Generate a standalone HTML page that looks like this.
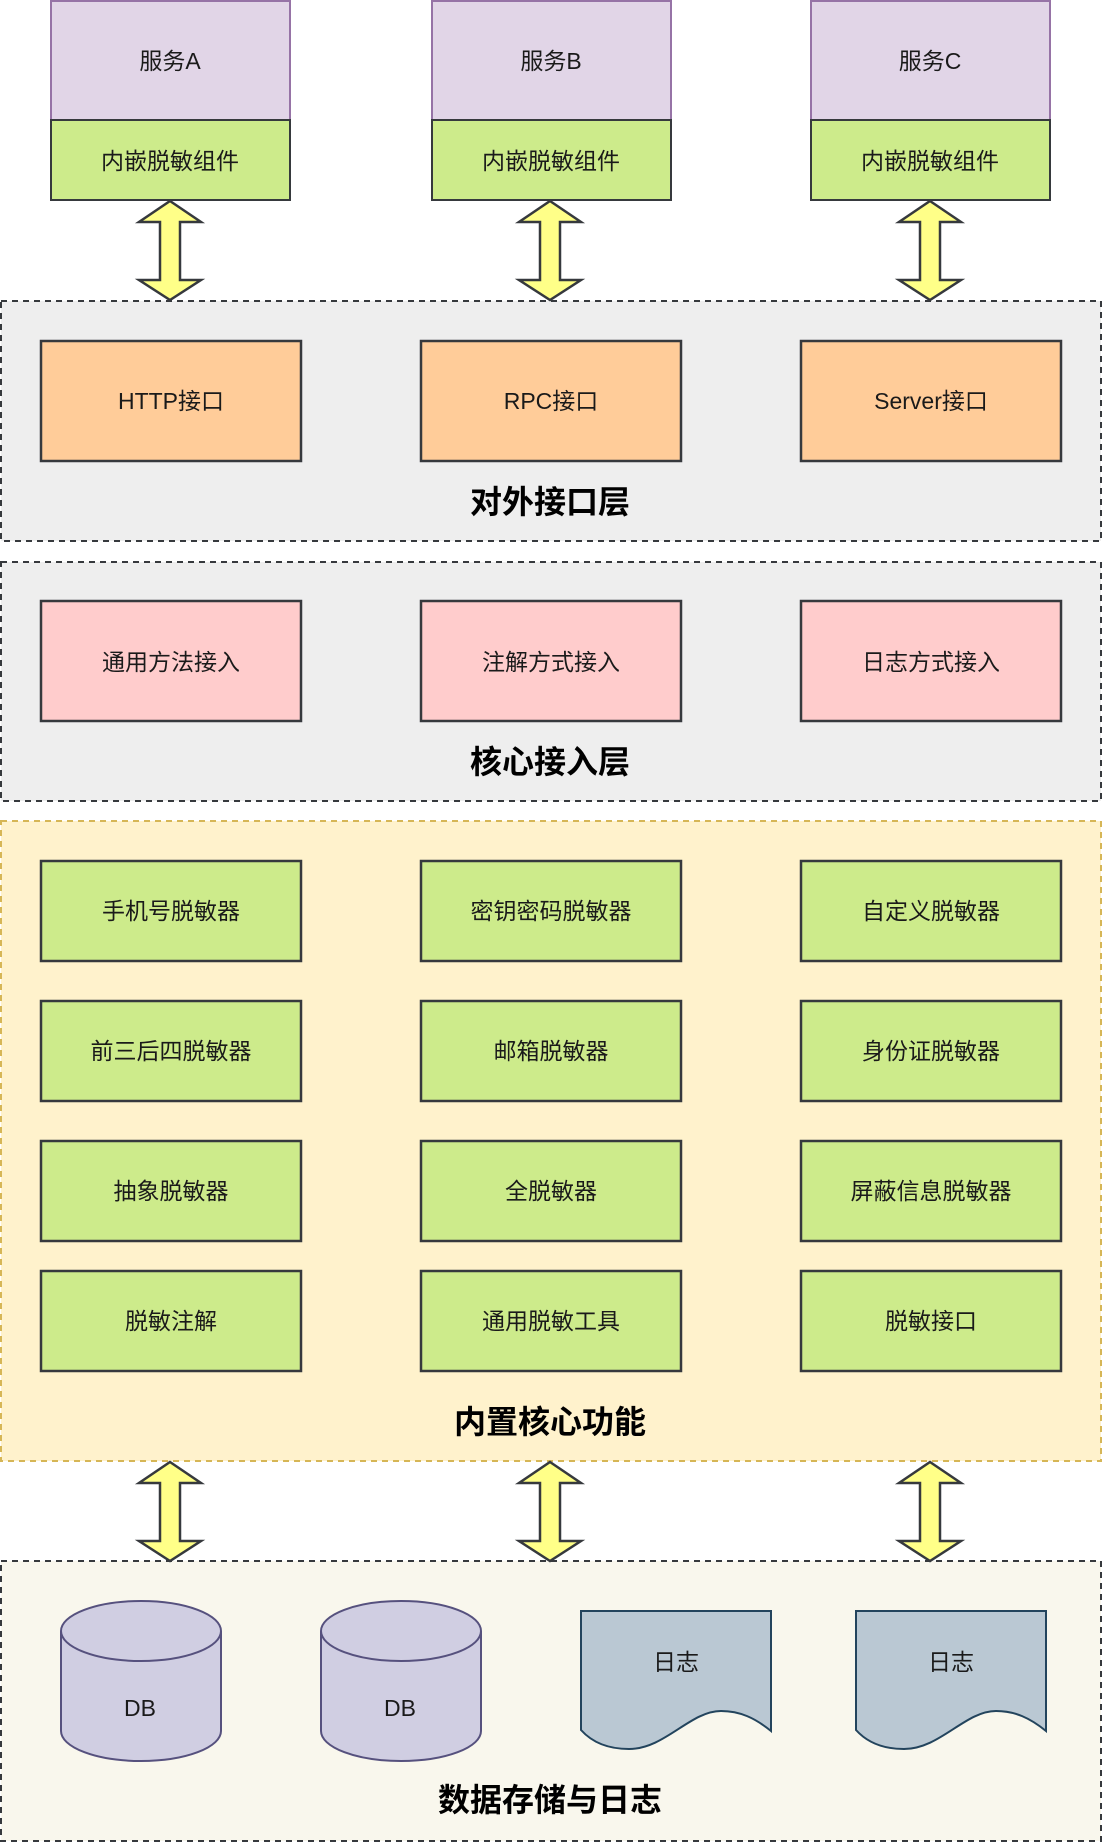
<!DOCTYPE html>
<html><head><meta charset="utf-8">
<style>
html,body{margin:0;padding:0;background:#fff;}
svg{display:block;}
text{font-family:"Liberation Sans","Noto Sans CJK SC",sans-serif;fill:#1a1a1a;}
.t{font-size:23px;}
.h{font-size:32px;font-weight:bold;fill:#000;}
</style></head><body>
<svg width="1102" height="1842" viewBox="0 0 1102 1842" xmlns="http://www.w3.org/2000/svg">
<!-- services -->
<g stroke-width="2">
<rect x="51" y="1" width="239" height="119" fill="#e1d5e7" stroke="#9673a6"/>
<rect x="51" y="120" width="239" height="80" fill="#cdeb8b" stroke="#36393d"/>
<rect x="432" y="1" width="239" height="119" fill="#e1d5e7" stroke="#9673a6"/>
<rect x="432" y="120" width="239" height="80" fill="#cdeb8b" stroke="#36393d"/>
<rect x="811" y="1" width="239" height="119" fill="#e1d5e7" stroke="#9673a6"/>
<rect x="811" y="120" width="239" height="80" fill="#cdeb8b" stroke="#36393d"/>
</g>
<g text-anchor="middle" class="t">
<text x="170" y="69" class="t">服务A</text>
<text x="170" y="169" class="t">内嵌脱敏组件</text>
<text x="551" y="69" class="t">服务B</text>
<text x="551" y="169" class="t">内嵌脱敏组件</text>
<text x="930" y="69" class="t">服务C</text>
<text x="930" y="169" class="t">内嵌脱敏组件</text>
</g>

<!-- layer 1 -->
<rect x="1" y="301" width="1100" height="240" fill="#eeeeee" stroke="#36393d" stroke-width="2" stroke-dasharray="6,5"/>
<g fill="#ffcc99" stroke="#36393d" stroke-width="2.5">
<rect x="41" y="341" width="260" height="120"/>
<rect x="421" y="341" width="260" height="120"/>
<rect x="801" y="341" width="260" height="120"/>
</g>
<g text-anchor="middle">
<text x="171" y="409" class="t">HTTP接口</text>
<text x="551" y="409" class="t">RPC接口</text>
<text x="931" y="409" class="t">Server接口</text>
<text x="550" y="513" class="h">对外接口层</text>
</g>

<!-- layer 2 -->
<rect x="1" y="562" width="1100" height="239" fill="#eeeeee" stroke="#36393d" stroke-width="2" stroke-dasharray="6,5"/>
<g fill="#ffcccc" stroke="#36393d" stroke-width="2.5">
<rect x="41" y="601" width="260" height="120"/>
<rect x="421" y="601" width="260" height="120"/>
<rect x="801" y="601" width="260" height="120"/>
</g>
<g text-anchor="middle">
<text x="171" y="670" class="t">通用方法接入</text>
<text x="551" y="670" class="t">注解方式接入</text>
<text x="931" y="670" class="t">日志方式接入</text>
<text x="550" y="773" class="h">核心接入层</text>
</g>

<!-- layer 3 -->
<rect x="1" y="821" width="1100" height="640" fill="#fff2cc" stroke="#d6b656" stroke-width="2" stroke-dasharray="6,5"/>
<g fill="#cdeb8b" stroke="#36393d" stroke-width="2.5">
<rect x="41" y="861" width="260" height="100"/><rect x="421" y="861" width="260" height="100"/><rect x="801" y="861" width="260" height="100"/>
<rect x="41" y="1001" width="260" height="100"/><rect x="421" y="1001" width="260" height="100"/><rect x="801" y="1001" width="260" height="100"/>
<rect x="41" y="1141" width="260" height="100"/><rect x="421" y="1141" width="260" height="100"/><rect x="801" y="1141" width="260" height="100"/>
<rect x="41" y="1271" width="260" height="100"/><rect x="421" y="1271" width="260" height="100"/><rect x="801" y="1271" width="260" height="100"/>
</g>
<g text-anchor="middle">
<text x="171" y="919" class="t">手机号脱敏器</text>
<text x="551" y="919" class="t">密钥密码脱敏器</text>
<text x="931" y="919" class="t">自定义脱敏器</text>
<text x="171" y="1059" class="t">前三后四脱敏器</text>
<text x="551" y="1059" class="t">邮箱脱敏器</text>
<text x="931" y="1059" class="t">身份证脱敏器</text>
<text x="171" y="1199" class="t">抽象脱敏器</text>
<text x="551" y="1199" class="t">全脱敏器</text>
<text x="931" y="1199" class="t">屏蔽信息脱敏器</text>
<text x="171" y="1329" class="t">脱敏注解</text>
<text x="551" y="1329" class="t">通用脱敏工具</text>
<text x="931" y="1329" class="t">脱敏接口</text>
<text x="550" y="1433" class="h">内置核心功能</text>
</g>

<!-- layer 4 -->
<rect x="1" y="1561" width="1100" height="280" fill="#f9f7ed" stroke="#36393d" stroke-width="2" stroke-dasharray="6,5"/>
<g fill="#d0cee2" stroke="#56517e" stroke-width="2">
<path d="M61,1631 V1731 A80,30 0 0 0 221,1731 V1631"/>
<ellipse cx="141" cy="1631" rx="80" ry="30"/>
<path d="M321,1631 V1731 A80,30 0 0 0 481,1731 V1631"/>
<ellipse cx="401" cy="1631" rx="80" ry="30"/>
</g>
<g fill="#bac8d3" stroke="#23445d" stroke-width="2">
<path d="M581,1611 H771 V1731 C755,1718 740,1711 721,1711 C690,1711 665,1749 629,1749 C605,1749 590,1740 581,1730 Z"/>
<path d="M856,1611 H1046 V1731 C1030,1718 1015,1711 996,1711 C965,1711 940,1749 904,1749 C880,1749 865,1740 856,1730 Z"/>
</g>
<g text-anchor="middle">
<text x="140" y="1716" class="t">DB</text>
<text x="400" y="1716" class="t">DB</text>
<text x="676" y="1670" class="t">日志</text>
<text x="951" y="1670" class="t">日志</text>
<text x="550" y="1811" class="h">数据存储与日志</text>
</g>

<!-- arrows -->
<defs>
<path id="arr" d="M0,0 L31,21 H10 V79 H31 L0,99 L-31,79 H-10 V21 H-31 Z" fill="#ffff88" stroke="#36393d" stroke-width="2.5" stroke-linejoin="miter"/>
</defs>
<use href="#arr" x="170" y="201"/>
<use href="#arr" x="550" y="201"/>
<use href="#arr" x="930" y="201"/>
<use href="#arr" x="170" y="1462"/>
<use href="#arr" x="550" y="1462"/>
<use href="#arr" x="930" y="1462"/>
</svg>
</body></html>
